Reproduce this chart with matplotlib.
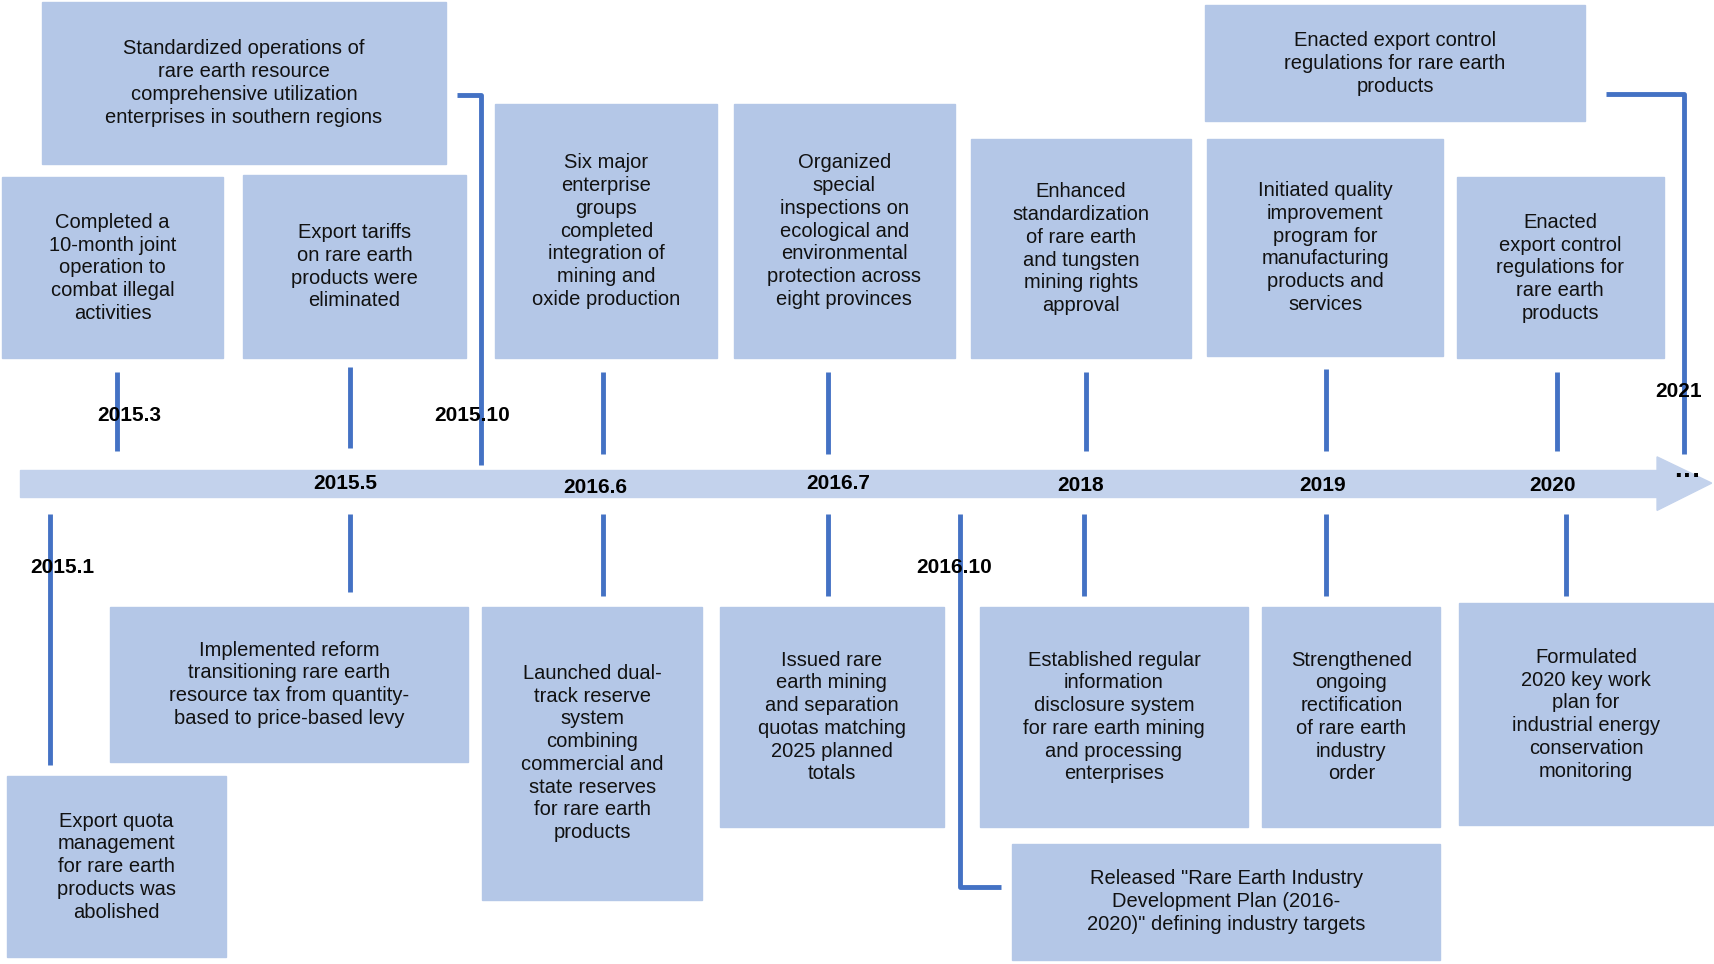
import matplotlib
matplotlib.use("Agg")
import matplotlib.pyplot as plt
from matplotlib.patches import Rectangle, FancyArrow

plt.rcParams['font.family'] = ['Liberation Sans', 'DejaVu Sans']

dates = ["2015.10", "2015.3", "2015.5", "2016.6", "2016.7", "2018", "2019", "2021", "2020",
         "2015.1", "2015.5", "2016.6", "2016.7", "2018", "2019", "2020", "2016.10"]
texts = [
    "Standardized operations of\nrare earth resource\ncomprehensive utilization\nenterprises in southern regions",
    "Completed a\n10-month joint\noperation to\ncombat illegal\nactivities",
    "Export tariffs\non rare earth\nproducts were\neliminated",
    "Six major\nenterprise\ngroups\ncompleted\nintegration of\nmining and\noxide production",
    "Organized\nspecial\ninspections on\necological and\nenvironmental\nprotection across\neight provinces",
    "Enhanced\nstandardization\nof rare earth\nand tungsten\nmining rights\napproval",
    "Initiated quality\nimprovement\nprogram for\nmanufacturing\nproducts and\nservices",
    "Enacted export control\nregulations for rare earth\nproducts",
    "Enacted\nexport control\nregulations for\nrare earth\nproducts",
    "Export quota\nmanagement\nfor rare earth\nproducts was\nabolished",
    "Implemented reform\ntransitioning rare earth\nresource tax from quantity-\nbased to price-based levy",
    "Launched dual-\ntrack reserve\nsystem\ncombining\ncommercial and\nstate reserves\nfor rare earth\nproducts",
    "Issued rare\nearth mining\nand separation\nquotas matching\n2025 planned\ntotals",
    "Established regular\ninformation\ndisclosure system\nfor rare earth mining\nand processing\nenterprises",
    "Strengthened\nongoing\nrectification\nof rare earth\nindustry\norder",
    "Formulated\n2020 key work\nplan for\nindustrial energy\nconservation\nmonitoring",
    "Released \"Rare Earth Industry\nDevelopment Plan (2016-\n2020)\" defining industry targets",
]

# layout (reference pixel space 1568x880)
boxes = [(38,2,408,150),(2,162,204,328),(222,160,426,328),(453,95,656,328),(671,95,873,328),
         (888,127,1089,328),(1104,127,1319,326),(1102,5,1449,111),(1332,162,1521,328),
         (6,710,207,876),(101,555,428,697),(441,555,642,823),(658,555,863,757),
         (896,555,1141,757),(1154,555,1317,757),(1334,552,1566,755),(925,772,1317,878)]
connectors = [[(418,87),(440,87),(440,425)],[(107,340),(107,413)],[(320,336),(320,410)],
              [(551,340),(551,415)],[(757,340),(757,415)],[(993,340),(993,413)],
              [(1212,338),(1212,413)],[(1468,86),(1540,86),(1540,415)],[(1424,340),(1424,413)],
              [(46,470),(46,700)],[(320,470),(320,542)],[(551,470),(551,545)],
              [(757,470),(757,545)],[(991,470),(991,545)],[(1212,470),(1212,545)],
              [(1432,470),(1432,545)],[(878,470),(878,812),(915,812)]]
labels = [(432,380),(118,380),(316,442),(544,446),(766,442),(988,444),(1209,444),(1535,358),(1419,444),
          (57,519),None,None,None,None,None,None,(872,519)]

box_c = "#b4c7e7"; line_c = "#4472c4"; band_c = "#c3d2ec"

fig = plt.figure(figsize=(17.15, 9.64), dpi=100)
ax = fig.add_axes([0, 0, 1, 1])
ax.set_xlim(0, 1568); ax.set_ylim(882, 0); ax.axis('off')

ax.add_patch(Rectangle((18, 430), 1517, 25, color=band_c, zorder=1))
ax.add_patch(plt.Polygon([(1515, 418), (1565, 442), (1515, 467)], color=band_c, zorder=1))
ax.text(1543, 436, "···", fontsize=20, fontweight='bold', ha='center', va='center', zorder=5)

for (x0, y0, x1, y1), t in zip(boxes, texts):
    ax.add_patch(Rectangle((x0, y0), x1 - x0, y1 - y0, color=box_c, zorder=2))
    ax.text((x0 + x1) / 2, (y0 + y1) / 2, t, ha='center', va='center', fontsize=14.5,
            linespacing=1.25, color="#111111", zorder=3)
for pts in connectors:
    xs, ys = zip(*pts)
    ax.plot(xs, ys, color=line_c, lw=3.5, solid_capstyle='butt', zorder=4)
done = set()
for d, p in zip(dates, labels):
    if p is None or d in done:
        continue
    done.add(d)
    ax.text(p[0], p[1], d, ha='center', va='center', fontsize=15, fontweight='bold', zorder=5)

fig.savefig("out.png", dpi=100, facecolor="white")
